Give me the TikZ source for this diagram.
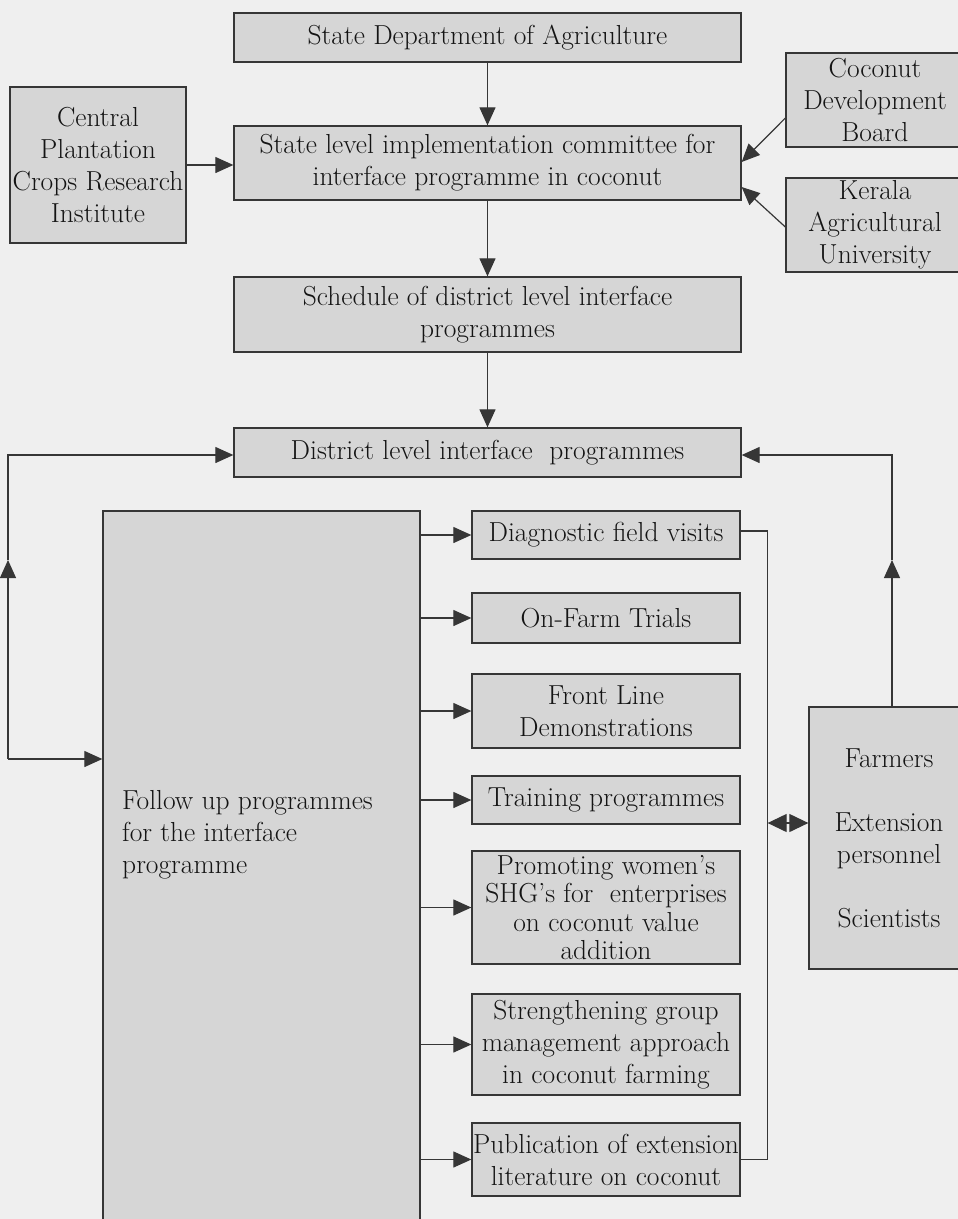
\documentclass[tikz,border=0pt]{standalone}
\usepackage{tikz}
\usetikzlibrary{calc,arrows.meta}
\definecolor{pagegray}{HTML}{EFEFEF}
\definecolor{boxgray}{HTML}{D6D6D6}
\definecolor{inkgray}{HTML}{363636}
\tikzset{
	chartbox/.style={draw=inkgray, line width=1.3pt, fill=boxgray, text=black!92, align=center, inner sep=0pt, font=\fontsize{27.5}{32}\selectfont},
	flowline/.style={draw=inkgray, line width=1.2pt},
	flowarrow/.style={flowline, -{Triangle[length=18pt,width=16pt]}},
	bothtips/.style={flowline, {Triangle[length=19pt,width=18pt]}-{Triangle[length=19pt,width=18pt]}},
}

\begin{document}
\begin{tikzpicture}[x=1pt, y=-1pt]
		%%%%% START %%%%%
		\useasboundingbox[fill=pagegray] (0,0) rectangle (958,1219);
		
		% state level
		\node[chartbox, minimum width=507pt, minimum height=49pt] (sda) at (487.5,37.5) {State Department of Agriculture};
		\node[chartbox, minimum width=176pt, minimum height=156pt] (cpcri) at (98,165) {Central\\Plantation\\Crops Research\\Institute};
		\node[chartbox, minimum width=507pt, minimum height=74pt] (slic) at (487.5,163) {State level implementation committee for\\interface programme in coconut};
		\node[chartbox, minimum width=178pt, minimum height=94pt] (cdb) at (875,100) {Coconut\\Development\\Board};
		\node[chartbox, minimum width=178pt, minimum height=94pt] (kau) at (875,225) {Kerala\\Agricultural\\University};
		
		% district level
		\node[chartbox, minimum width=507pt, minimum height=75pt] (sched) at (487.5,314.5) {Schedule of district level interface\\programmes};
		\node[chartbox, minimum width=507pt, minimum height=49pt] (dist) at (487.5,452.5) {District level interface~ programmes};
		
		% follow up
		\node[chartbox, minimum width=317pt, minimum height=718pt] (follow) at (261.5,870) {};
		\node[anchor=west, align=left, inner sep=0pt, text=black!92, font=\fontsize{27.5}{32}\selectfont] (followtxt) at (122,835) {Follow up programmes\\for the interface\\programme};
		
		\node[chartbox, minimum width=268pt, minimum height=48pt] (diag) at (606,535) {Diagnostic field visits};
		\node[chartbox, minimum width=268pt, minimum height=50pt] (ont) at (606,618) {On-Farm Trials};
		\node[chartbox, minimum width=268pt, minimum height=74pt] (fld) at (606,711) {Front Line\\Demonstrations};
		\node[chartbox, minimum width=268pt, minimum height=48pt] (train) at (606,800) {Training programmes};
		\node[chartbox, minimum width=268pt, minimum height=113pt, font=\fontsize{27.5}{28.5}\selectfont] (shg) at (606,907.5) {Promoting women's\\SHG's for~ enterprises\\on coconut value\\addition};
		\node[chartbox, minimum width=268pt, minimum height=101pt] (sgm) at (606,1044.5) {Strengthening group\\management approach\\in coconut farming};
		\node[chartbox, minimum width=268pt, minimum height=73pt] (pub) at (606,1159.5) {Publication of extension\\literature on coconut};
		
		\node[chartbox, minimum width=160pt, minimum height=262pt] (farmers) at (889,838) {Farmers\\[32pt]Extension\\personnel\\[32pt]Scientists};
		
		% arrows
		\draw[flowarrow] (sda) -- (slic);
		\draw[flowarrow] (cpcri.east) -- (cpcri.east -| slic.west);
		\draw[flowarrow] ([yshift=-18pt]cdb.west) -- ([yshift=1pt]slic.east);
		\draw[flowarrow] ([yshift=-2pt]kau.west) -- ([yshift=-24pt]slic.east);
		\draw[flowarrow] (slic) -- (sched);
		\draw[flowarrow] (sched) -- (dist);
		
		\coordinate (lbot) at (8,759);
		\coordinate (lmid) at (8,560);
		\coordinate (ltop) at (8,455);
		\draw[flowarrow] (lbot) -- (lbot -| follow.west);
		\draw[flowarrow] (lbot) -- (lmid);
		\draw[flowarrow] (lmid) -- (ltop) -- (ltop -| dist.west);
		
		\foreach \n in {diag,ont,fld,train,shg,sgm,pub}
			\draw[flowarrow] (follow.east |- \n.west) -- (\n.west);
		
		\draw[flowline] ([yshift=4pt]diag.east) -- ++(27,0) coordinate (brk) |- (pub.east);
		\coordinate (fside) at ([yshift=15pt]farmers.west);
		\draw[bothtips] (brk |- fside) -- (fside);
		
		\coordinate (rtop) at (892,455);
		\coordinate (rmid) at (892,560);
		\draw[flowarrow] (rtop |- farmers.north) -- (rmid);
		\draw[flowarrow] (rmid) -- (rtop) -- (rtop -| dist.east);
		
		%%%%% END %%%%%
\end{tikzpicture}
\end{document}
